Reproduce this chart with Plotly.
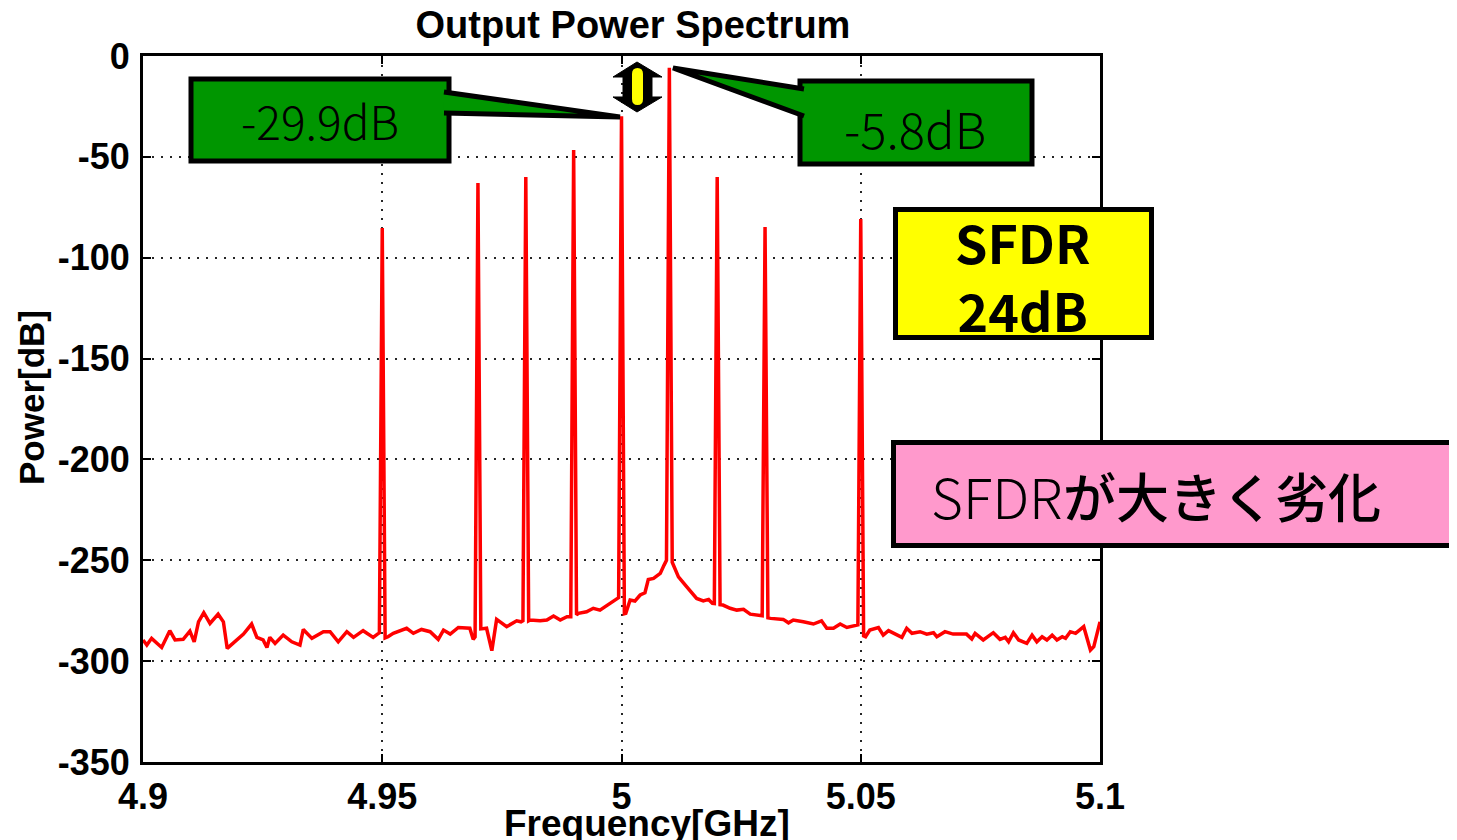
import plotly.graph_objects as go

# ---------------- data ----------------
freq_ghz = [
    4.9000, 4.9008, 4.9018, 4.9039, 4.9056, 4.9067, 4.9084, 4.9098, 4.9107, 4.9116,
    4.9127, 4.9140, 4.9157, 4.9168, 4.9176, 4.9210, 4.9227, 4.9238, 4.9251, 4.9259,
    4.9265, 4.9276, 4.9293, 4.9311, 4.9328, 4.9335, 4.9353, 4.9377, 4.9391, 4.9408,
    4.9426, 4.9440, 4.9460, 4.9481, 4.9490, 4.9494, 4.9500, 4.9506, 4.9512, 4.9523,
    4.9551, 4.9565, 4.9582, 4.9600, 4.9617, 4.9628, 4.9642, 4.9659, 4.9683, 4.9690,
    4.9694, 4.9700, 4.9706, 4.9711, 4.9718, 4.9729, 4.9739, 4.9760, 4.9781, 4.9790,
    4.9794, 4.9800, 4.9806, 4.9809, 4.9830, 4.9844, 4.9858, 4.9872, 4.9886, 4.9894,
    4.9900, 4.9906, 4.9910, 4.9927, 4.9941, 4.9955, 4.9976, 4.9990, 4.9994, 5.0000,
    5.0006, 5.0009, 5.0018, 5.0028, 5.0039, 5.0049, 5.0056, 5.0067, 5.0081, 5.0089,
    5.0094, 5.0100, 5.0106, 5.0110, 5.0119, 5.0136, 5.0157, 5.0171, 5.0182, 5.0190,
    5.0194, 5.0200, 5.0206, 5.0212, 5.0227, 5.0241, 5.0255, 5.0269, 5.0286, 5.0294,
    5.0300, 5.0306, 5.0312, 5.0338, 5.0349, 5.0359, 5.0380, 5.0401, 5.0418, 5.0429,
    5.0443, 5.0457, 5.0471, 5.0488, 5.0494, 5.0500, 5.0506, 5.0510, 5.0519, 5.0537,
    5.0547, 5.0558, 5.0568, 5.0586, 5.0596, 5.0607, 5.0624, 5.0638, 5.0652, 5.0659,
    5.0676, 5.0693, 5.0721, 5.0732, 5.0739, 5.0756, 5.0777, 5.0791, 5.0802, 5.0809,
    5.0819, 5.0830, 5.0847, 5.0858, 5.0868, 5.0879, 5.0889, 5.0900, 5.0910, 5.0921,
    5.0928, 5.0938, 5.0949, 5.0966, 5.0980, 5.0987, 5.1000,
]
power_db = [
    -289.5, -292.0, -288.7, -293.2, -284.9, -289.5, -289.2, -285.1, -290.4, -280.5,
    -276.0, -281.3, -276.7, -280.5, -293.7, -286.6, -281.6, -288.2, -289.5, -293.2,
    -288.2, -291.2, -287.1, -290.4, -292.0, -284.3, -288.7, -285.4, -285.4, -290.4,
    -285.4, -288.2, -284.9, -288.2, -286.6, -286.0, -85.3, -288.5, -287.9, -286.2,
    -283.7, -286.2, -284.3, -285.4, -289.2, -284.6, -286.6, -283.3, -283.7, -289.2,
    -288.0, -63.0, -284.0, -283.7, -283.7, -294.8, -279.3, -282.9, -280.0, -280.5,
    -280.0, -60.0, -280.0, -279.6, -280.0, -279.6, -277.6, -279.6, -278.0, -278.0,
    -46.6, -277.0, -276.3, -275.5, -273.8, -274.7, -271.3, -268.9, -268.5, -29.9,
    -276.5, -276.3, -269.7, -270.2, -267.2, -266.1, -259.5, -259.0, -256.5, -252.4,
    -250.0, -5.8, -251.0, -253.2, -258.2, -263.1, -268.9, -270.1, -269.4, -271.4,
    -271.5, -60.0, -272.0, -272.2, -273.8, -274.7, -274.3, -276.7, -277.2, -277.5,
    -84.8, -278.5, -278.8, -279.3, -281.0, -279.6, -280.5, -281.6, -280.0, -283.7,
    -283.7, -281.6, -283.3, -282.1, -282.0, -80.8, -287.5, -287.9, -284.6, -283.3,
    -287.1, -284.9, -286.2, -288.2, -283.7, -286.2, -285.4, -286.6, -285.9, -287.9,
    -285.4, -286.6, -286.6, -289.0, -286.2, -289.5, -285.9, -289.2, -288.2, -290.4,
    -285.9, -289.5, -291.2, -287.1, -290.4, -287.9, -289.5, -287.1, -289.5, -287.9,
    -288.7, -285.4, -286.2, -282.9, -294.5, -292.8, -280.5,
]

x_tick_vals = [4.9, 4.95, 5.0, 5.05, 5.1]
x_tick_text = ["4.9", "4.95", "5", "5.05", "5.1"]
y_tick_vals = [0, -50, -100, -150, -200, -250, -300, -350]
y_tick_text = ["0", "-50", "-100", "-150", "-200", "-250", "-300", "-350"]

title_text = "Output Power Spectrum"
x_title = "Frequency[GHz]"
y_title = "Power[dB]"
label_fund2 = "-29.9dB"
label_fund1 = "-5.8dB"
label_sfdr = "<b>SFDR<br>24dB</b>"
label_note_a = "SFDR"
label_note_b = "が大きく劣化"

# ---------------- figure ----------------
AX_FONT = dict(family="Liberation Sans, Arial, sans-serif", size=36, color="black", weight="bold")
THIN = "Noto Sans CJK JP, Lato, sans-serif"
GREEN = "#009600"

fig = go.Figure()
fig.add_trace(go.Scatter(
    x=freq_ghz, y=power_db, mode="lines",
    line=dict(color="#ff0000", width=3.5), showlegend=False, hoverinfo="skip",
))

axis_common = dict(
    showline=True, linecolor="black", linewidth=3, mirror="ticks",
    ticks="inside", ticklen=8, tickwidth=2, tickcolor="black",
    showgrid=True, gridcolor="rgba(0,0,0,0.85)", gridwidth=2, griddash="2px,7px",
    zeroline=False, tickfont=AX_FONT,
)
fig.update_xaxes(range=[4.9, 5.1], tickvals=x_tick_vals, ticktext=x_tick_text,
                 ticklabelstandoff=1, **axis_common)
fig.update_yaxes(range=[-350, 0], tickvals=y_tick_vals, ticktext=y_tick_text,
                 ticklabelstandoff=3, **axis_common)

# the page body adds an 8px offset, so the figure is sized 8px smaller
fig.update_layout(
    width=1449, height=832,
    margin=dict(l=135, r=357, t=48, b=78),
    paper_bgcolor="white", plot_bgcolor="white",
    title=dict(text=title_text, x=0.4313, xref="container", xanchor="center",
               y=1 - 17 / 832, yref="container", yanchor="middle",
               font=dict(family="Liberation Sans, Arial, sans-serif", size=38,
                         color="black", weight="bold")),
)

shapes = []
# left callout box (-29.9dB)
shapes.append(dict(type="rect", xref="paper", yref="paper",
                   x0=0.05016, x1=0.31975, y0=0.85127, y1=0.96742,
                   fillcolor=GREEN, line=dict(color="black", width=5), layer="above"))
shapes.append(dict(type="path", xref="paper", yref="paper",
                   path="M 0.3145 0.94901 L 0.49843 0.91360 L 0.3145 0.91926",
                   fillcolor=GREEN, line=dict(color="black", width=5), layer="above"))
# right callout box (-5.8dB)
shapes.append(dict(type="rect", xref="paper", yref="paper",
                   x0=0.68652, x1=0.92894, y0=0.84703, y1=0.96459,
                   fillcolor=GREEN, line=dict(color="black", width=5), layer="above"))
shapes.append(dict(type="path", xref="paper", yref="paper",
                   path="M 0.69070 0.95326 L 0.55381 0.98300 L 0.69070 0.91501",
                   fillcolor=GREEN, line=dict(color="black", width=5), layer="above"))
# double arrow
shapes.append(dict(type="path", xref="paper", yref="paper",
                   path=("M 0.51620 0.99150 L 0.54232 0.97025 L 0.53187 0.97025 "
                         "L 0.53187 0.94193 L 0.54232 0.94193 L 0.51620 0.92068 "
                         "L 0.49112 0.94193 L 0.50157 0.94193 L 0.50157 0.97025 "
                         "L 0.49112 0.97025 Z"),
                   fillcolor="black", line=dict(color="black", width=1), layer="above"))
shapes.append(dict(type="path", xref="paper", yref="paper",
                   path=("M 0.51097 0.97450 Q 0.51097 0.98300 0.51672 0.98300 "
                         "Q 0.52247 0.98300 0.52247 0.97450 L 0.52247 0.93909 "
                         "Q 0.52247 0.93059 0.51672 0.93059 Q 0.51097 0.93059 0.51097 0.93909 Z"),
                   fillcolor="#ffff00", line=dict(color="#ffff00", width=0), layer="above"))
# SFDR yellow box
shapes.append(dict(type="rect", xref="paper", yref="paper",
                   x0=0.78631, x1=1.05381, y0=0.60127, y1=0.78258,
                   fillcolor="#ffff00", line=dict(color="black", width=5), layer="above"))
# pink note box
shapes.append(dict(type="rect", xref="paper", yref="paper",
                   x0=0.78422, x1=1.38662, y0=0.30666, y1=0.45255,
                   fillcolor="#ff99cc", line=dict(color="black", width=5), layer="above"))
fig.update_layout(shapes=shapes)

annotations = [
    dict(text=label_fund2, x=0.18495, y=0.90935, xref="paper", yref="paper",
         showarrow=False, xanchor="center", yanchor="middle",
         font=dict(family=THIN, size=46, color="black", weight=300)),
    dict(text=label_fund1, x=0.80669, y=0.89943, xref="paper", yref="paper",
         showarrow=False, xanchor="center", yanchor="middle",
         font=dict(family=THIN, size=49, color="black", weight=300)),
    dict(text=label_sfdr, x=0.91850, y=0.68980, xref="paper", yref="paper",
         showarrow=False, xanchor="center", yanchor="middle",
         font=dict(family="Noto Sans CJK JP, Noto Sans, sans-serif", size=52, color="black")),
    dict(text=label_note_a, x=0.96134, y=0.37819, xref="paper", yref="paper",
         showarrow=False, xanchor="right", yanchor="middle", xshift=2,
         font=dict(family=THIN, size=55, color="black", weight=300)),
    dict(text=label_note_b, x=0.96134, y=0.37819, xref="paper", yref="paper",
         showarrow=False, xanchor="left", yanchor="middle", xshift=-2,
         font=dict(family=THIN, size=53, color="black", weight=500)),
    dict(text=x_title, x=0.52665, y=-0.087, xref="paper", yref="paper",
         showarrow=False, xanchor="center", yanchor="middle",
         font=dict(family="Liberation Sans, Arial, sans-serif", size=37, color="black", weight="bold")),
    dict(text=y_title, x=-0.116, y=0.517, xref="paper", yref="paper",
         showarrow=False, xanchor="center", yanchor="middle", textangle=-90,
         font=dict(family="Liberation Sans, Arial, sans-serif", size=35, color="black", weight="bold")),
]
fig.update_layout(annotations=annotations)

fig.write_html("out.html")
